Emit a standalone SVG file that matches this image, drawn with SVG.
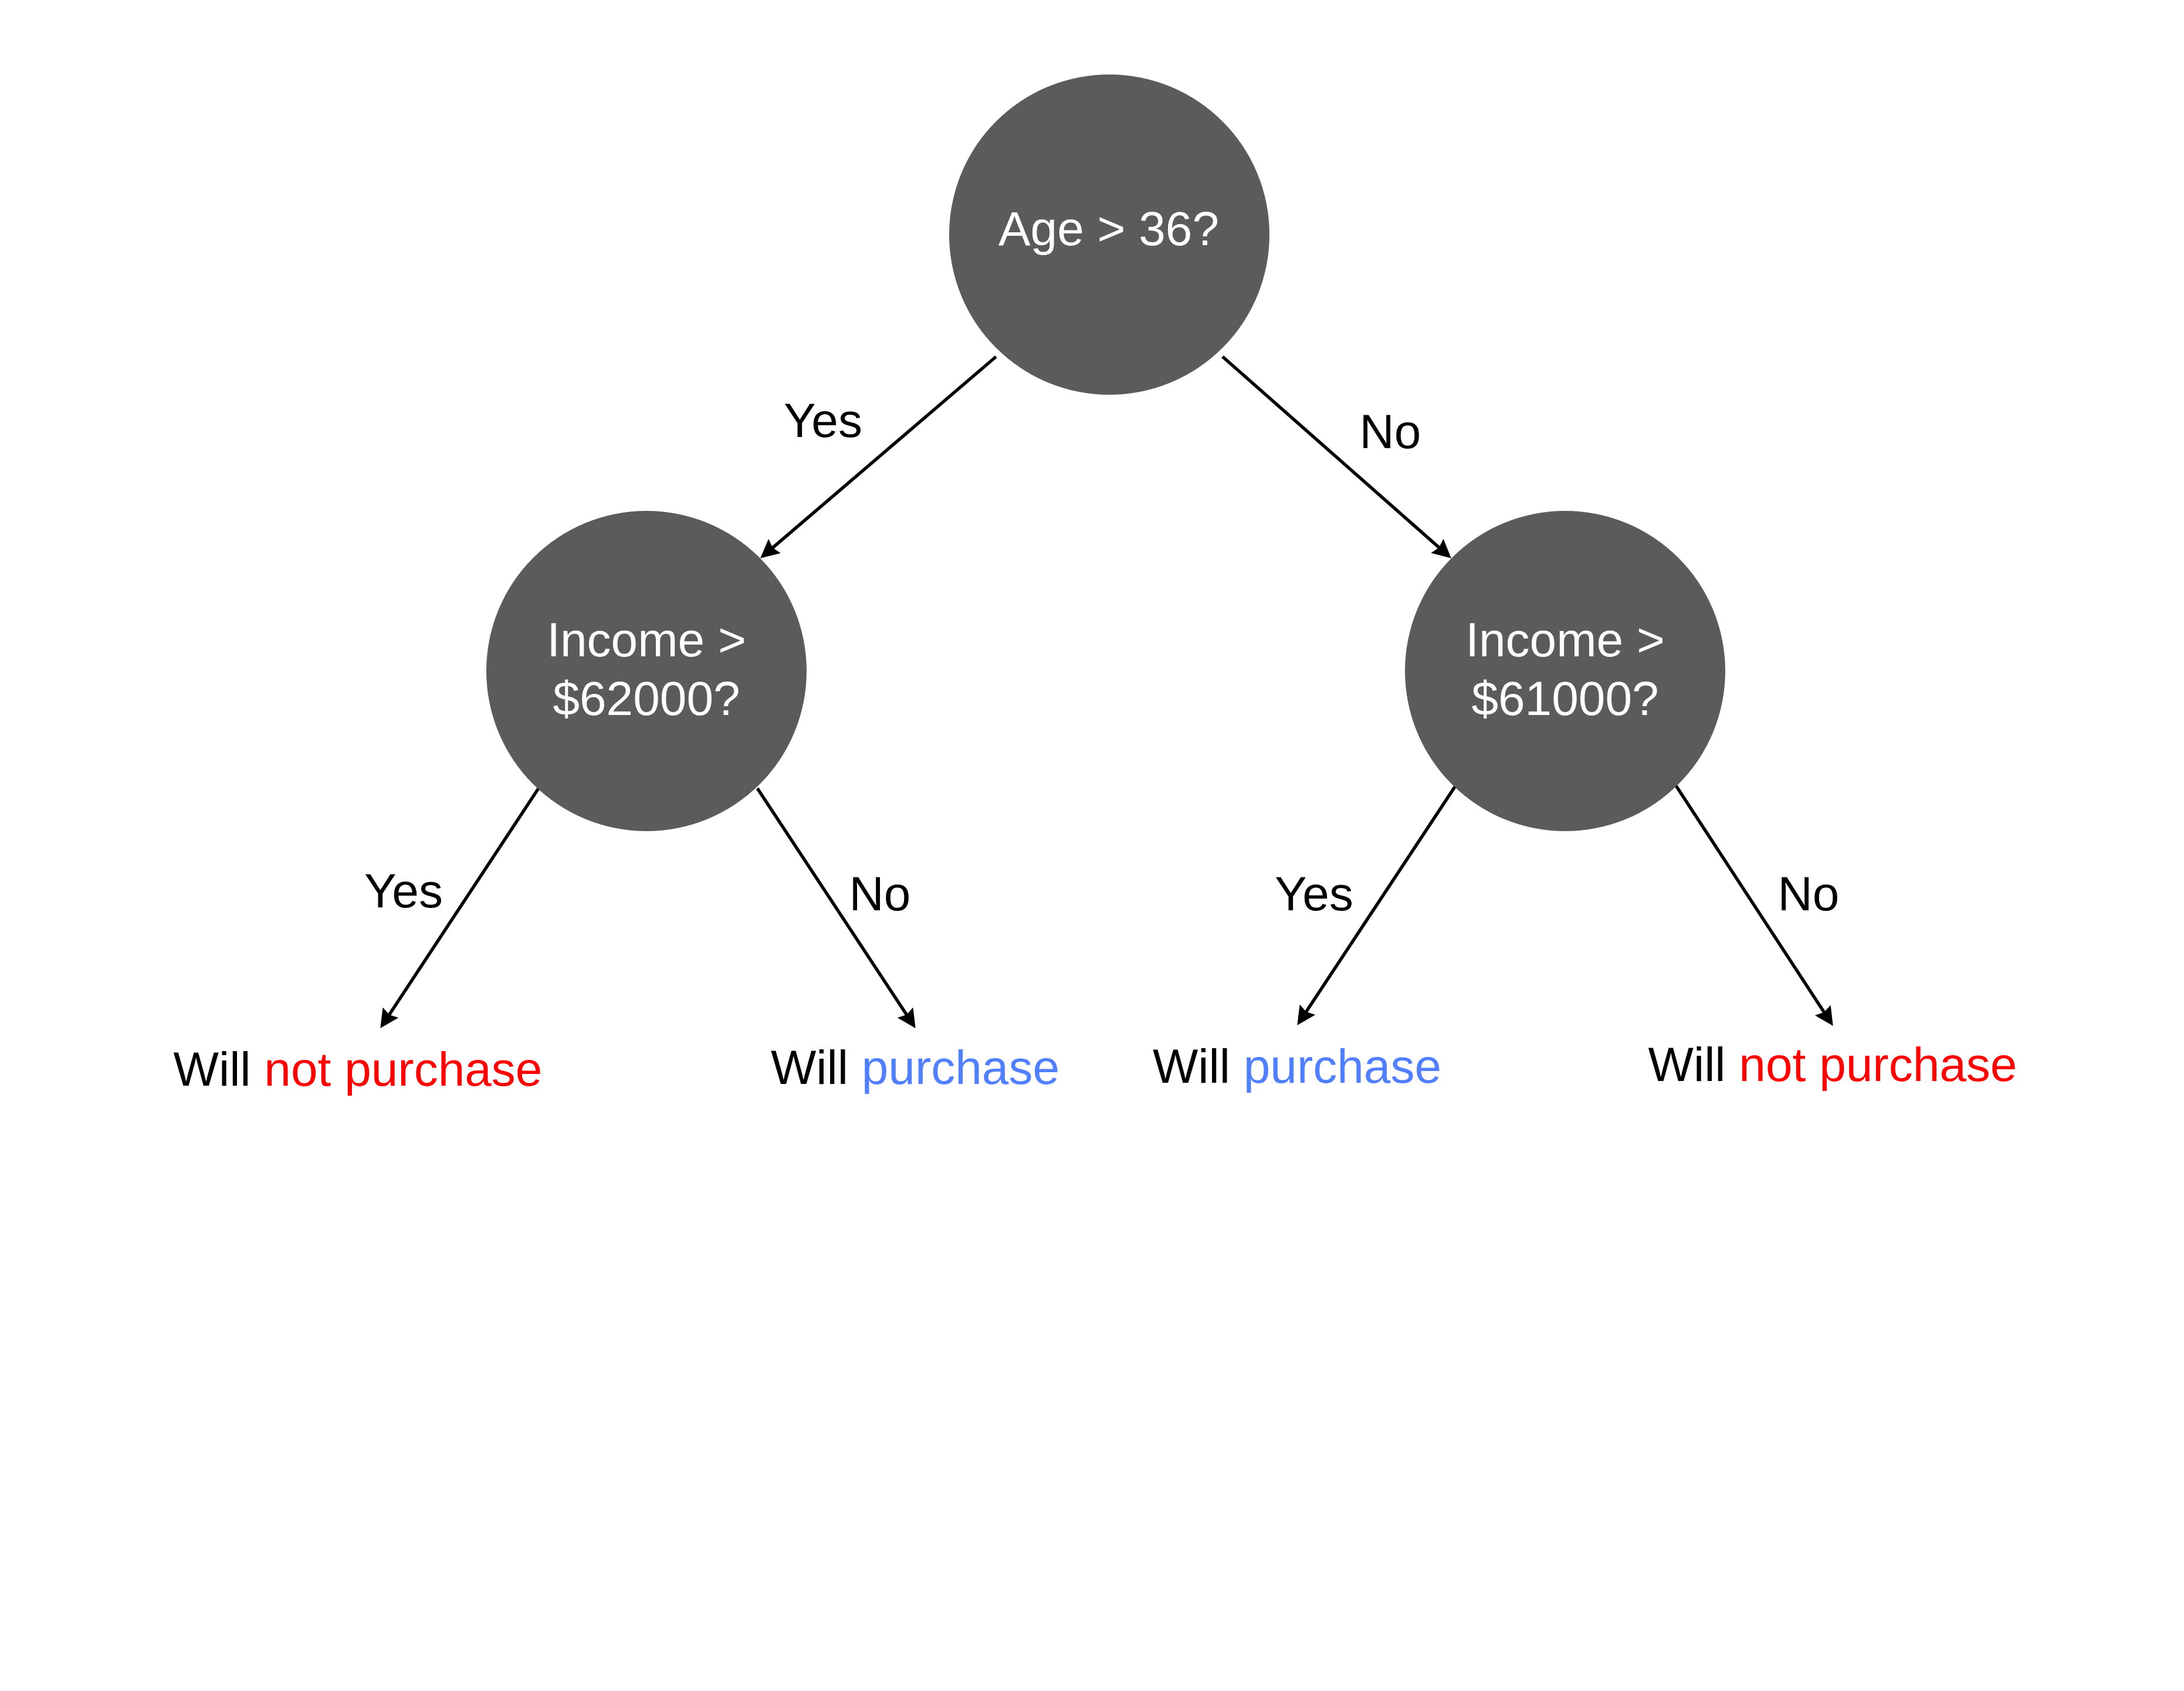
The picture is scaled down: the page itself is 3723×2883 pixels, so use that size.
<svg xmlns="http://www.w3.org/2000/svg" width="3723" height="2883" viewBox="0 0 3723 2883">
<style>
.node circle{fill:#5b5b5b}
text{font-family:"Liberation Sans",Arial,sans-serif;font-size:82px;text-anchor:middle}
.ntext{fill:#ffffff}
.lbl{fill:#000000}
.edge{stroke:#000000;stroke-width:5.5;fill:none;marker-end:url(#arr)}
.neg{fill:#ff0000}
.pos{fill:#5080ff}
</style>
<defs>
<marker id="arr" markerUnits="userSpaceOnUse" markerWidth="32" markerHeight="32" viewBox="0 0 30 30" refX="12" refY="15" orient="auto">
<path d="M0,0 L30,15 L0,30 L4,15 z" fill="#000000"/>
</marker>
</defs>
<rect x="0" y="0" width="3723" height="2883" fill="#ffffff"/>
<g id="connectors">
<line class="edge" x1="1698" y1="608" x2="1310.7" y2="939.3"/>
<line class="edge" x1="2084" y1="608" x2="2459.5" y2="939.1"/>
<line class="edge" x1="918" y1="1344" x2="658.9" y2="1737"/>
<line class="edge" x1="1291" y1="1344" x2="1550.1" y2="1737"/>
<line class="edge" x1="2481" y1="1340" x2="2221.9" y2="1732"/>
<line class="edge" x1="2856" y1="1338" x2="3114.2" y2="1733"/>
<text class="lbl" x="1403" y="745">Yes</text>
<text class="lbl" x="2370" y="764">No</text>
<text class="lbl" x="688" y="1547">Yes</text>
<text class="lbl" x="1500" y="1552">No</text>
<text class="lbl" x="2240" y="1552">Yes</text>
<text class="lbl" x="3083" y="1552">No</text>
</g>
<g id="node-root" class="node">
<circle cx="1891" cy="400" r="273"/>
<text class="ntext" x="1890" y="418">Age &gt; 36?</text>
</g>
<g id="node-income-left" class="node">
<circle cx="1102" cy="1144" r="273"/>
<text class="ntext" x="1102" y="1119">Income &gt;</text>
<text class="ntext" x="1102" y="1219">$62000?</text>
</g>
<g id="node-income-right" class="node">
<circle cx="2668" cy="1144" r="273"/>
<text class="ntext" x="2668" y="1119">Income &gt;</text>
<text class="ntext" x="2668" y="1219">$61000?</text>
</g>
<g id="leaf-1"><text class="lbl" x="610" y="1851">Will <tspan class="neg">not purchase</tspan></text></g>
<g id="leaf-2"><text class="lbl" x="1560" y="1848">Will <tspan class="pos">purchase</tspan></text></g>
<g id="leaf-3"><text class="lbl" x="2211" y="1846">Will <tspan class="pos">purchase</tspan></text></g>
<g id="leaf-4"><text class="lbl" x="3124" y="1843">Will <tspan class="neg">not purchase</tspan></text></g>
</svg>
